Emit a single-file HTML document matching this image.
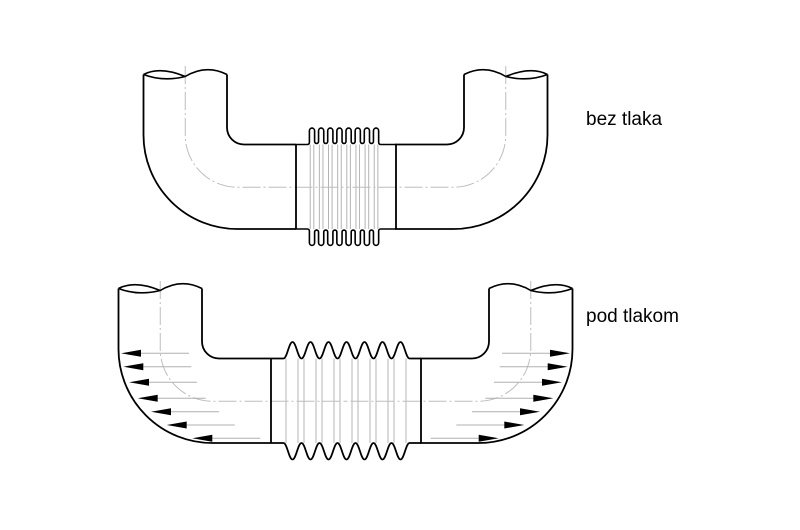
<!DOCTYPE html>
<html>
<head>
<meta charset="utf-8">
<style>
  html,body{margin:0;padding:0;background:#fff;}
  svg{display:block;}
  text{font-family:"Liberation Sans", Arial, sans-serif;font-size:19px;fill:#000;}
</style>
</head>
<body>
<svg width="800" height="530" viewBox="0 0 800 530" xmlns="http://www.w3.org/2000/svg">
  <rect width="800" height="530" fill="#fff"/>

  <!-- ============ TOP FIGURE (bez tlaka) ============ -->
  <path d="M310.2 144.5V229M313.8 144.5V229M319.35 144.5V229M322.95 144.5V229M328.5 144.5V229M332.1 144.5V229M337.65 144.5V229M341.25 144.5V229M346.8 144.5V229M350.4 144.5V229M355.95 144.5V229M359.55 144.5V229M365.1 144.5V229M368.7 144.5V229M374.25 144.5V229M377.85 144.5V229" stroke="#b4b4b4" stroke-width="1" fill="none"/>

  <g fill="none">
    <path d="M185.25 66V135A52.25 52.25 0 0 0 237.5 187.25H345.5" stroke="#bdbdbd" stroke-width="1" stroke-dasharray="18 3 2 3"/>
    <path d="M143.5 74.5V135A94 94 0 0 0 237.5 229H296" stroke="#000" stroke-width="1.8"/>
    <path d="M227 74.5V127.5A17 17 0 0 0 244 144.5H296" stroke="#000" stroke-width="1.8"/>
    <path d="M143.5 74.5Q160 66 185.25 76.5Q206 64 227 74.5M143.5 74.5Q163 82 185.25 76.5" stroke="#000" stroke-width="1.6"/>
  </g>
  <g fill="none" transform="translate(691,0) scale(-1,1)">
    <path d="M185.25 66V135A52.25 52.25 0 0 0 237.5 187.25H345.5" stroke="#bdbdbd" stroke-width="1" stroke-dasharray="18 3 2 3"/>
    <path d="M143.5 74.5V135A94 94 0 0 0 237.5 229H296" stroke="#000" stroke-width="1.8"/>
    <path d="M227 74.5V127.5A17 17 0 0 0 244 144.5H296" stroke="#000" stroke-width="1.8"/>
    <path d="M143.5 74.5Q160 66 185.25 76.5Q206 64 227 74.5M143.5 74.5Q163 82 185.25 76.5" stroke="#000" stroke-width="1.6"/>
  </g>

  <path d="M296 144.5V229M396 144.5V229" stroke="#000" stroke-width="1.8" fill="none"/>

  <path d="M296 144.5H307.4A2 2 0 0 0 309.4 142.5V130.9A2.6 2.8 0 0 1 314.6 130.9V141.5A1.975 1.975 0 0 0 318.55 141.5V130.9A2.6 2.8 0 0 1 323.75 130.9V141.5A1.975 1.975 0 0 0 327.7 141.5V130.9A2.6 2.8 0 0 1 332.9 130.9V141.5A1.975 1.975 0 0 0 336.85 141.5V130.9A2.6 2.8 0 0 1 342.05 130.9V141.5A1.975 1.975 0 0 0 346 141.5V130.9A2.6 2.8 0 0 1 351.2 130.9V141.5A1.975 1.975 0 0 0 355.15 141.5V130.9A2.6 2.8 0 0 1 360.35 130.9V141.5A1.975 1.975 0 0 0 364.3 141.5V130.9A2.6 2.8 0 0 1 369.5 130.9V141.5A1.975 1.975 0 0 0 373.45 141.5V130.9A2.6 2.8 0 0 1 378.65 130.9V142.5A2 2 0 0 0 380.65 144.5H396" stroke="#000" stroke-width="1.6" fill="none"/>
  <g transform="translate(0,373.5) scale(1,-1)">
    <path d="M296 144.5H307.4A2 2 0 0 0 309.4 142.5V130.9A2.6 2.8 0 0 1 314.6 130.9V141.5A1.975 1.975 0 0 0 318.55 141.5V130.9A2.6 2.8 0 0 1 323.75 130.9V141.5A1.975 1.975 0 0 0 327.7 141.5V130.9A2.6 2.8 0 0 1 332.9 130.9V141.5A1.975 1.975 0 0 0 336.85 141.5V130.9A2.6 2.8 0 0 1 342.05 130.9V141.5A1.975 1.975 0 0 0 346 141.5V130.9A2.6 2.8 0 0 1 351.2 130.9V141.5A1.975 1.975 0 0 0 355.15 141.5V130.9A2.6 2.8 0 0 1 360.35 130.9V141.5A1.975 1.975 0 0 0 364.3 141.5V130.9A2.6 2.8 0 0 1 369.5 130.9V141.5A1.975 1.975 0 0 0 373.45 141.5V130.9A2.6 2.8 0 0 1 378.65 130.9V142.5A2 2 0 0 0 380.65 144.5H396" stroke="#000" stroke-width="1.6" fill="none"/>
  </g>

  <!-- ============ BOTTOM FIGURE (pod tlakom) ============ -->
  <path d="M286 358.5V443M298 358.5V443M304 358.5V443M316 358.5V443M322 358.5V443M334 358.5V443M340 358.5V443M352 358.5V443M358 358.5V443M370 358.5V443M376 358.5V443M388 358.5V443M394 358.5V443M406 358.5V443" stroke="#b4b4b4" stroke-width="1" fill="none"/>

  <g>
    <path d="M160.25 281V349A52.25 52.25 0 0 0 212.5 401.25H345.5" stroke="#bdbdbd" stroke-width="1" stroke-dasharray="18 3 2 3" fill="none"/>
    <path d="M141 353.3H189M143.3 366.7H191.3M149 382.3H197M157.7 398.3H205.7M171 411.7H219M186.7 425H234.7M212.3 438.3H260.3" stroke="#b0b0b0" stroke-width="1" fill="none"/>
    <polygon points="121,353.3 141,349.8 141,356.8" fill="#000"/>
    <polygon points="123.3,366.7 143.3,363.2 143.3,370.2" fill="#000"/>
    <polygon points="129,382.3 149,378.8 149,385.8" fill="#000"/>
    <polygon points="137.7,398.3 157.7,394.8 157.7,401.8" fill="#000"/>
    <polygon points="151,411.7 171,408.2 171,415.2" fill="#000"/>
    <polygon points="166.7,425 186.7,421.5 186.7,428.5" fill="#000"/>
    <polygon points="192.3,438.3 212.3,434.8 212.3,441.8" fill="#000"/>
    <path d="M118.5 288.5V349A94 94 0 0 0 212.5 443H271" stroke="#000" stroke-width="1.8" fill="none"/>
    <path d="M202 288.5V341.5A17 17 0 0 0 219 358.5H271" stroke="#000" stroke-width="1.8" fill="none"/>
    <path d="M118.5 288.5Q135 280 160.25 290.5Q181 278 202 288.5M118.5 288.5Q138 296 160.25 290.5" stroke="#000" stroke-width="1.6" fill="none"/>
  </g>
  <g transform="translate(691,0) scale(-1,1)">
    <path d="M160.25 281V349A52.25 52.25 0 0 0 212.5 401.25H345.5" stroke="#bdbdbd" stroke-width="1" stroke-dasharray="18 3 2 3" fill="none"/>
    <path d="M141 353.3H189M143.3 366.7H191.3M149 382.3H197M157.7 398.3H205.7M171 411.7H219M186.7 425H234.7M212.3 438.3H260.3" stroke="#b0b0b0" stroke-width="1" fill="none"/>
    <polygon points="121,353.3 141,349.8 141,356.8" fill="#000"/>
    <polygon points="123.3,366.7 143.3,363.2 143.3,370.2" fill="#000"/>
    <polygon points="129,382.3 149,378.8 149,385.8" fill="#000"/>
    <polygon points="137.7,398.3 157.7,394.8 157.7,401.8" fill="#000"/>
    <polygon points="151,411.7 171,408.2 171,415.2" fill="#000"/>
    <polygon points="166.7,425 186.7,421.5 186.7,428.5" fill="#000"/>
    <polygon points="192.3,438.3 212.3,434.8 212.3,441.8" fill="#000"/>
    <path d="M118.5 288.5V349A94 94 0 0 0 212.5 443H271" stroke="#000" stroke-width="1.8" fill="none"/>
    <path d="M202 288.5V341.5A17 17 0 0 0 219 358.5H271" stroke="#000" stroke-width="1.8" fill="none"/>
    <path d="M118.5 288.5Q135 280 160.25 290.5Q181 278 202 288.5M118.5 288.5Q138 296 160.25 290.5" stroke="#000" stroke-width="1.6" fill="none"/>
  </g>

  <path d="M271 358.5V443M421 358.5V443" stroke="#000" stroke-width="1.8" fill="none"/>

  <path d="M271 358.5H283.5C287.1 358.5 288.9 342 292.5 342S297.9 358.5 301.5 358.5S306.9 342 310.5 342S315.9 358.5 319.5 358.5S324.9 342 328.5 342S333.9 358.5 337.5 358.5S342.9 342 346.5 342S351.9 358.5 355.5 358.5S360.9 342 364.5 342S369.9 358.5 373.5 358.5S378.9 342 382.5 342S387.9 358.5 391.5 358.5S396.9 342 400.5 342S405.9 358.5 409.5 358.5H421" stroke="#000" stroke-width="1.8" fill="none"/>
  <g transform="translate(0,801.5) scale(1,-1)">
    <path d="M271 358.5H283.5C287.1 358.5 288.9 342 292.5 342S297.9 358.5 301.5 358.5S306.9 342 310.5 342S315.9 358.5 319.5 358.5S324.9 342 328.5 342S333.9 358.5 337.5 358.5S342.9 342 346.5 342S351.9 358.5 355.5 358.5S360.9 342 364.5 342S369.9 358.5 373.5 358.5S378.9 342 382.5 342S387.9 358.5 391.5 358.5S396.9 342 400.5 342S405.9 358.5 409.5 358.5H421" stroke="#000" stroke-width="1.8" fill="none"/>
  </g>

  <text x="586" y="125">bez tlaka</text>
  <text x="586" y="322">pod tlakom</text>
</svg>
</body>
</html>
